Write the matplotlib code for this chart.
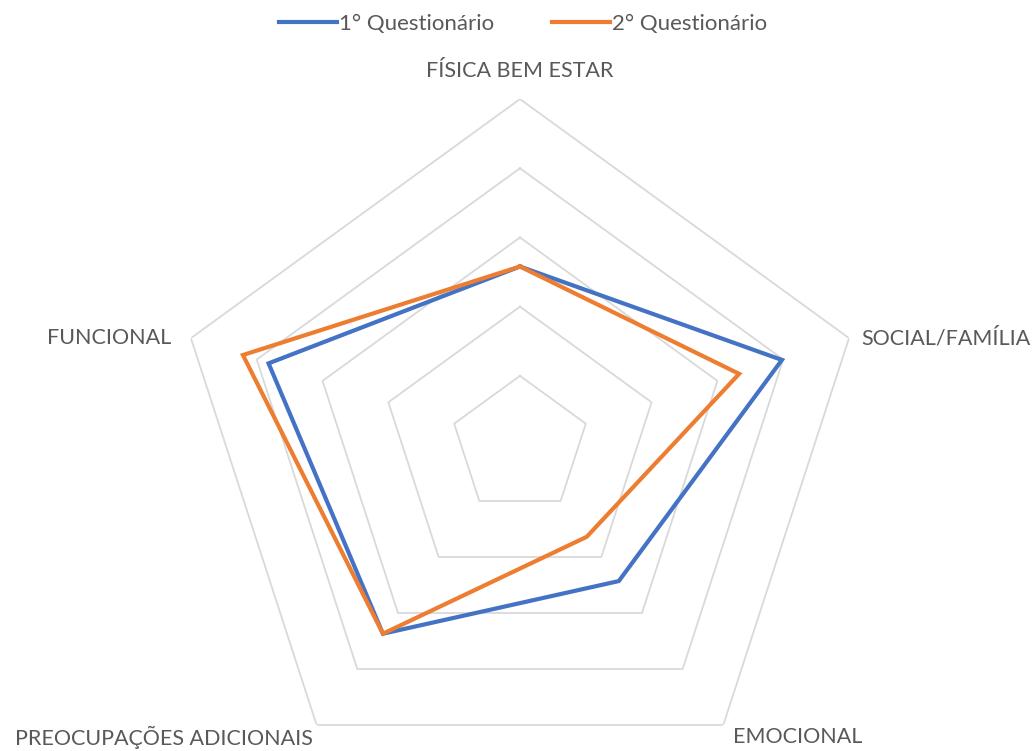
import numpy as np
import matplotlib.pyplot as plt

# categories (clockwise from top) and the two questionnaire series
categories = ['FÍSICA BEM ESTAR', 'SOCIAL/FAMÍLIA', 'EMOCIONAL',
              'PREOCUPAÇÕES ADICIONAIS', 'FUNCIONAL']
q1 = [2.58, 3.98, 2.43, 3.37, 3.82]
q2 = [2.58, 3.33, 1.64, 3.37, 4.21]
series_names = ['1° Questionário', '2° Questionário']
rings = [1, 2, 3, 4, 5]

plt.rcParams['font.family'] = ['Lato', 'DejaVu Sans']

def closed(vals):
    return list(vals) + [vals[0]]

def main():
    fig = plt.figure(figsize=(10.32, 7.51), dpi=100)
    ax = fig.add_axes([0.1686, -0.0533, 0.6705, 0.9214], projection='polar')
    ax.set_theta_offset(np.pi / 2)
    ax.set_theta_direction(-1)
    ax.set_ylim(0, 5)
    ax.grid(False)
    ax.set_xticks([])
    ax.set_yticks([])
    ax.spines['polar'].set_visible(False)
    ax.patch.set_alpha(0)

    ang = np.linspace(0, 2 * np.pi, len(categories), endpoint=False)
    angc = closed(ang)

    # pentagon grid
    for r in rings:
        ax.plot(angc, [r] * len(angc), color='#d9d9d9', lw=1.3, zorder=1)

    l1, = ax.plot(angc, closed(q1), color='#4472c4', lw=3.0, zorder=3,
                  solid_joinstyle='miter')
    l2, = ax.plot(angc, closed(q2), color='#ed7d31', lw=3.0, zorder=4,
                  solid_joinstyle='miter')

    # category labels, offsets in points
    offs = [(0, 20, 'center', 'center'), (9, 0, 'left', 'center'),
            (7, -9, 'left', 'center'), (-3, -9, 'right', 'center'),
            (-14, 0, 'right', 'center')]
    for a, lab, (dx, dy, ha, va) in zip(ang, categories, offs):
        ax.annotate(lab, xy=(a, 5), xytext=(dx, dy), textcoords='offset points',
                    ha=ha, va=va, fontsize=15.5, color='#595959',
                    annotation_clip=False)

    fig.legend([l1, l2], series_names, loc='upper center',
               bbox_to_anchor=(0.507, 1.008), ncol=2, frameon=False,
               fontsize=16, handlelength=2.6, handletextpad=0.1,
               columnspacing=2.6, labelcolor='#595959')

    fig.savefig('out.png', dpi=100, facecolor='white')

if __name__ == "__main__":
    main()
